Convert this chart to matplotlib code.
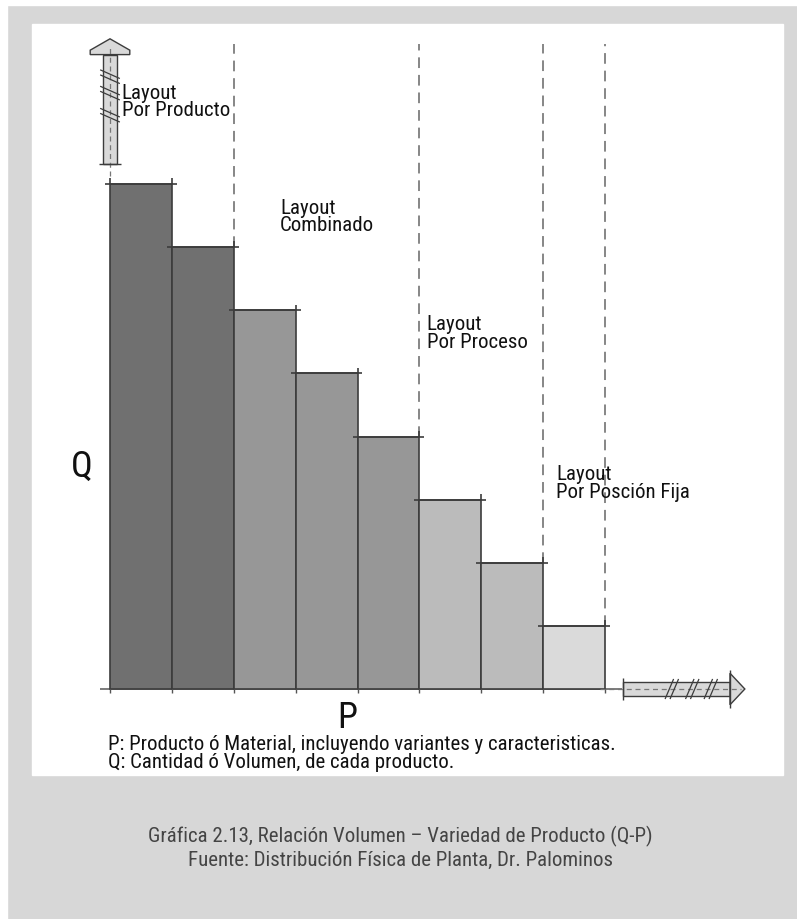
import matplotlib
matplotlib.use("Agg")
import matplotlib.pyplot as plt
from matplotlib.patches import Rectangle, Polygon

plt.rcParams["font.family"] = ["Roboto Condensed", "DejaVu Sans"]

# data: volume (Q) per product variety (P), highest to lowest
volumes = [8.0, 7.0, 6.0, 5.0, 4.0, 3.0, 2.0, 1.0]
bar_colors = ["#707070", "#707070", "#979797", "#979797", "#979797",
              "#bbbbbb", "#bbbbbb", "#dadada"]
zone_edges = [2, 5, 7, 8]
zone_labels = ["Layout\nPor Producto", "Layout\nCombinado",
               "Layout\nPor Proceso", "Layout\nPor Posción Fija"]
zone_label_pos = [(0.19, 9.6), (2.75, 7.78), (5.12, 5.94), (7.21, 3.56)]
notes = ["P: Producto ó Material, incluyendo variantes y caracteristicas.",
         "Q: Cantidad ó Volumen, de cada producto."]
caption = ["Gráfica 2.13, Relación Volumen – Variedad de Producto (Q-P)",
           "Fuente: Distribución Física de Planta, Dr. Palominos"]

EDGE = "#3c3c3c"
ARROW_FILL = "#d9d9d9"

W, H = 797, 920
fig = plt.figure(figsize=(W / 100, H / 100), dpi=100)
fig.patch.set_facecolor("#d7d7d7")
# white border strips and inner white panel
fig.patches.append(Rectangle((0, 0), 7 / W, 1, transform=fig.transFigure, color="white", zorder=0))
fig.patches.append(Rectangle((0, 1 - 6 / H), 1, 6 / H, transform=fig.transFigure, color="white", zorder=0))
fig.patches.append(Rectangle((32 / W, 1 - 776 / H), (783 - 32) / W, (776 - 25) / H,
                             transform=fig.transFigure, color="white", zorder=0))

ax = fig.add_axes([0, 0, 1, 1], zorder=2)
ax.patch.set_alpha(0)
ax.set_xlim(-110 / 61.875, (W - 110) / 61.875)
ax.set_ylim(-(H - 690) / 63.125, 690 / 63.125)
ax.axis("off")

n = len(volumes)
xs = list(range(n))
ax.bar(xs, volumes, width=1.0, align="edge", color=bar_colors,
       edgecolor=EDGE, linewidth=1.2, zorder=3)

# corner ticks on bars
for i, v in enumerate(volumes):
    ax.hlines(v, i - 0.08, i + 1.08, color=EDGE, lw=1.2, zorder=4)
    ax.vlines(i + 1, v, v + 0.09, color=EDGE, lw=1.2, zorder=4)
    ax.vlines(i, -0.07, 0, color="#555555", lw=1.0, zorder=4)
ax.vlines(0, volumes[0], volumes[0] + 0.09, color=EDGE, lw=1.2, zorder=4)
ax.vlines(n, -0.07, 0, color="#555555", lw=1.0, zorder=4)

# baseline
ax.hlines(0, -0.16, n + 0.27, color="#666666", lw=1.2, zorder=2)

# zone separators
for e in zone_edges:
    ax.vlines(e, volumes[e - 1], 10.22, color="#666666", lw=1.1,
              linestyles=(0, (7, 4.5)), zorder=2)

for (tx, ty), lab in zip(zone_label_pos, zone_labels):
    ax.text(tx, ty, lab, fontsize=15, va="top", ha="left", color="#111111",
            linespacing=0.9, zorder=5)

# vertical Q arrow
top = volumes[0]
ax.add_patch(Rectangle((-0.11, top + 0.32), 0.22, 1.73, facecolor=ARROW_FILL,
                       edgecolor=EDGE, lw=1.0, zorder=3))
ax.add_patch(Polygon([(-0.32, top + 2.05), (-0.32, top + 2.12), (0, top + 2.30),
                      (0.32, top + 2.12), (0.32, top + 2.05)], closed=True,
                     facecolor=ARROW_FILL, edgecolor=EDGE, lw=1.0, zorder=3))
ax.vlines(0, top + 0.13, top + 2.2, color="#777777", lw=0.9, linestyles=(0, (4, 3)), zorder=4)
ax.hlines(top + 0.32, -0.17, 0.17, color=EDGE, lw=1.0, zorder=4)
for yc in [top + 1.70, top + 1.44, top + 1.09]:
    for off in (-0.04, 0.04):
        ax.plot([-0.15, 0.15], [yc + 0.065 + off, yc - 0.065 + off], color=EDGE, lw=0.9, zorder=5)

# horizontal P arrow
x0, x1 = n + 0.29, n + 2.02
ax.add_patch(Rectangle((x0, -0.103), x1 - x0, 0.206, facecolor=ARROW_FILL,
                       edgecolor=EDGE, lw=1.0, zorder=3))
ax.add_patch(Polygon([(x1, 0.25), (x1, -0.25), (x1 + 0.24, 0)], closed=True,
                     facecolor=ARROW_FILL, edgecolor=EDGE, lw=1.0, zorder=3))
ax.vlines(x1, -0.3, 0.3, color=EDGE, lw=1.0, zorder=4)
ax.vlines(x0, -0.17, 0.17, color=EDGE, lw=1.0, zorder=4)
ax.hlines(0.0, n - 0.08, x1 + 0.18, color="#777777", lw=0.9, linestyles=(0, (4, 3)), zorder=4)
for xc in [n + 1.08, n + 1.41, n + 1.71]:
    for off in (-0.04, 0.04):
        ax.plot([xc - 0.065 + off, xc + 0.065 + off], [-0.15, 0.15], color=EDGE, lw=0.9, zorder=5)

# axis letters
ax.text(-0.45, 3.53, "Q", fontsize=26, ha="center", va="center", color="#111111")
ax.text(3.83, -0.44, "P", fontsize=26, ha="center", va="center", color="#111111")

# footnotes as one block so the tight lines don't collide
ax.text(-0.03, -1.01, "\n".join(notes), fontsize=15, ha="left", va="center",
        color="#111111", linespacing=0.92)

for k, line in enumerate(caption):
    fig.text(400 / W, 1 - (836 + 24 * k) / H, line, fontsize=15, ha="center", va="center",
             color="#444444")

fig.savefig("out.png", dpi=100, facecolor=fig.get_facecolor())
